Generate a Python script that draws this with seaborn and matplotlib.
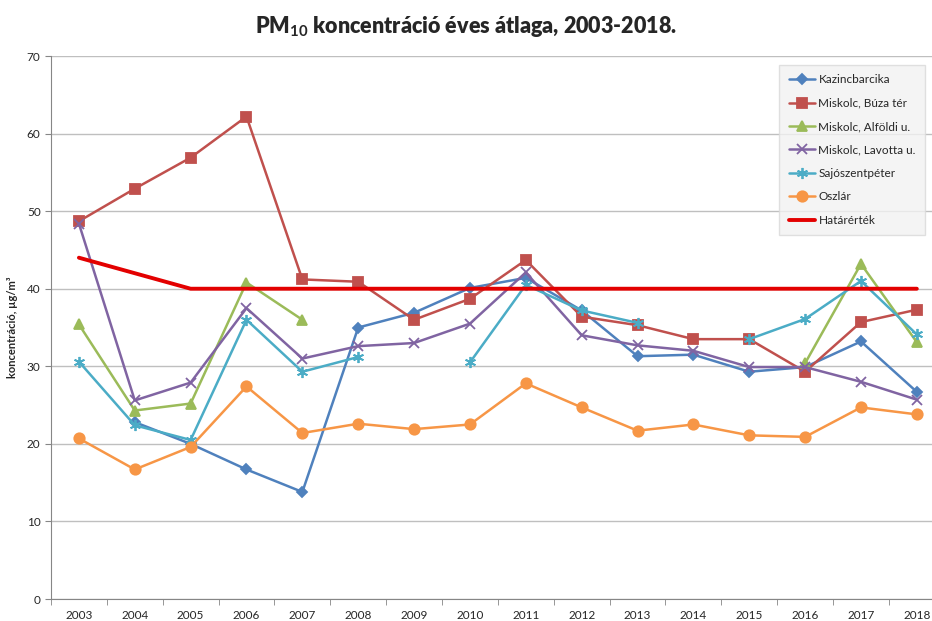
import numpy as np
import pandas as pd
import seaborn as sns
from matplotlib import pyplot as plt

# data
years = [str(y) for y in range(2003, 2019)]
nan = np.nan
kazincbarcika = [nan, 22.8, 20.0, 16.7, 13.8, 35.0, 36.9, 40.1, 41.4, 37.2, 31.3, 31.5, 29.3, 29.9, 33.2, 26.7]
buza_ter = [48.7, 52.9, 56.9, 62.2, 41.2, 40.9, 36.0, 38.7, 43.7, 36.4, 35.3, 33.5, 33.5, 29.3, 35.7, 37.3]
alfoldi = [35.4, 24.3, 25.2, 40.8, 36.0, nan, nan, nan, nan, nan, nan, nan, nan, 30.4, 43.2, 33.1]
lavotta = [48.4, 25.6, 27.9, 37.5, 31.0, 32.6, 33.0, 35.5, 42.1, 34.0, 32.7, 32.0, 29.9, 29.9, 28.0, 25.7]
sajoszentpeter = [30.6, 22.4, 20.5, 36.0, 29.3, 31.2, nan, 30.5, 40.5, 37.2, 35.6, nan, 33.5, 36.1, 41.0, 34.1]
oszlar = [20.7, 16.7, 19.6, 27.4, 21.4, 22.6, 21.9, 22.5, 27.8, 24.7, 21.7, 22.5, 21.1, 20.9, 24.7, 23.8]
hatarertek = [44, 42, 40, 40, 40, 40, 40, 40, 40, 40, 40, 40, 40, 40, 40, 40]

series = [
    ("Kazincbarcika", kazincbarcika, "#4F81BD", "D", 5),
    ("Miskolc, Búza tér", buza_ter, "#C0504D", "s", 6.5),
    ("Miskolc, Alföldi u.", alfoldi, "#9BBB59", "^", 7),
    ("Miskolc, Lavotta u.", lavotta, "#8064A2", "x", 7),
    ("Sajószentpéter", sajoszentpeter, "#4BACC6", (6, 2, 0), 8),
    ("Oszlár", oszlar, "#F79646", "o", 7.5),
    ("Határérték", hatarertek, "#E30000", None, 0),
]

sns.set_style("white")
plt.rcParams['font.family'] = ['Lato', 'DejaVu Sans']
plt.rcParams['mathtext.fontset'] = 'custom'
plt.rcParams['mathtext.rm'] = 'Lato:bold'
plt.rcParams['mathtext.it'] = 'Lato:bold'

fig = plt.figure(figsize=(9.32, 6.21), dpi=100)
ax = fig.add_axes([0.0547, 0.0354, 0.959, 0.8744])

x = np.arange(len(years))
for name, vals, color, marker, ms in series:
    df = pd.DataFrame({"x": x, "y": vals})
    # split into contiguous pieces so gaps stay open
    df["seg"] = df["y"].isna().cumsum()
    df = df.dropna()
    first = True
    for _, part in df.groupby("seg"):
        lw = 2.8 if marker is None else 1.8
        kw = dict(marker=marker, markersize=ms, markeredgecolor=color,
                  markerfacecolor=color, markeredgewidth=1.3) if marker else {}
        sns.lineplot(x=part["x"], y=part["y"], ax=ax, color=color, lw=lw,
                     label=name if first else None, legend=False, **kw)
        first = False

ax.set_xlim(-0.5, len(years) - 0.5)
ax.set_ylim(0, 70)
ax.set_yticks(range(0, 71, 10))
ax.set_xticks(x)
ax.set_xticklabels(years)
ax.set_xticks(np.arange(-0.5, len(years), 1), minor=True)
ax.tick_params(axis="x", which="major", length=0, labelsize=8.5, pad=8)
ax.tick_params(axis="x", which="minor", length=4, color="#868686", direction="out", bottom=True)
ax.tick_params(axis="y", length=4, color="#868686", direction="out", left=True, labelsize=8.5)
ax.set_xlabel("")
ax.set_ylabel("koncentráció, µg/m³", fontsize=8, fontweight="bold", labelpad=6)
ax.yaxis.grid(True, color="#BFBFBF", lw=1)
ax.set_axisbelow(True)
for s in ["top", "right"]:
    ax.spines[s].set_visible(False)
for s in ["left", "bottom"]:
    ax.spines[s].set_color("#868686")

fig.suptitle("PM$_{10}$ koncentráció éves átlaga, 2003-2018.", x=0.5, y=0.978,
             fontsize=15.5, fontweight="heavy")

handles, labels = ax.get_legend_handles_labels()
leg = fig.legend(handles, labels, loc="upper left", bbox_to_anchor=(0.83, 0.905),
                 fontsize=8.5, frameon=True, fancybox=False, handlelength=2.2,
                 labelspacing=1.05, borderpad=0.8, handletextpad=0.3)
leg.get_frame().set_facecolor("#F2F2F2")
leg.get_frame().set_edgecolor("#D9D9D9")

fig.savefig("out.png", dpi=100)
